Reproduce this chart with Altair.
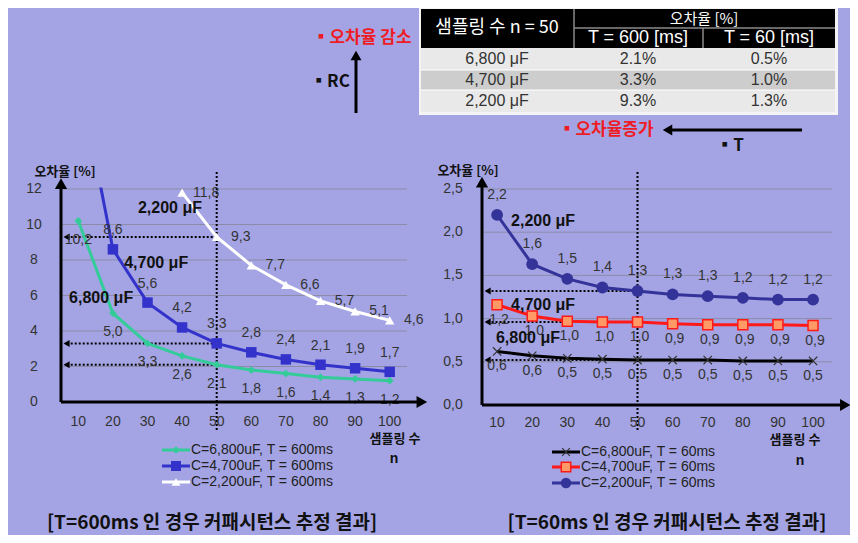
import altair as alt
import pandas as pd

BG = "#A4A4E4"
GRID = "#8C8CA8"
TXT = "#333333"
KR = "Noto Sans CJK KR"
LAT = "Liberation Sans"

# ---------------- data ----------------
N = [10, 20, 30, 40, 50, 60, 70, 80, 90, 100]
N_2200_600 = [40, 50, 60, 70, 80, 90, 100]
ERR600_6800 = [10.2, 5.0, 3.3, 2.6, 2.1, 1.8, 1.6, 1.4, 1.3, 1.2]
ERR600_4700 = [18.6, 8.6, 5.6, 4.2, 3.3, 2.8, 2.4, 2.1, 1.9, 1.7]
ERR600_2200 = [11.8, 9.3, 7.7, 6.6, 5.7, 5.1, 4.6]
ERR60_6800 = [0.62, 0.57, 0.54, 0.53, 0.52, 0.52, 0.52, 0.51, 0.51, 0.51]
ERR60_4700 = [1.16, 1.03, 0.97, 0.96, 0.96, 0.94, 0.93, 0.93, 0.93, 0.92]
ERR60_2200 = [2.20, 1.63, 1.46, 1.36, 1.32, 1.28, 1.26, 1.24, 1.22, 1.22]
LEFT_Y_TICKS = [0, 2, 4, 6, 8, 10, 12]
RIGHT_Y_TICKS = [0.0, 0.5, 1.0, 1.5, 2.0, 2.5]
X_TICKS = N
GUIDES_600 = [9.3, 3.3, 2.1]
GUIDES_60 = [1.32, 0.96, 0.52]
CAPS = ["6,800 μF", "4,700 μF", "2,200 μF"]
TABLE_600 = ["2.1%", "3.3%", "9.3%"]
TABLE_60 = ["0.5%", "1.0%", "1.3%"]
LEGEND_600 = ["C=6,800uF, T = 600ms", "C=4,700uF, T = 600ms", "C=2,200uF, T = 600ms"]
LEGEND_60 = ["C=6,800uF, T = 60ms", "C=4,700uF, T = 60ms", "C=2,200uF, T = 60ms"]

# ---------------- scales ----------------
LX = alt.Scale(domain=[5, 105], range=[53, 399], nice=False, zero=False)
LY = alt.Scale(domain=[0, 12], range=[394, 181], nice=False, zero=False)
RX = alt.Scale(domain=[5.7, 105.4], range=[474, 824], nice=False, zero=False)
RY = alt.Scale(domain=[0, 2.5], range=[397, 181], nice=False, zero=False)
CX = alt.Scale(domain=[0, 842], range=[0, 842], nice=False, zero=False)
CY = alt.Scale(domain=[0, 527], range=[0, 527], nice=False, zero=False)

CROSS = "M-1,-1L1,1M1,-1L-1,1"


def enc(sx, sy, x2=False, y2=False):
    e = dict(x=alt.X("x:Q", scale=sx, axis=None), y=alt.Y("y:Q", scale=sy, axis=None))
    if x2:
        e["x2"] = alt.X2("x2:Q")
    if y2:
        e["y2"] = alt.Y2("y2:Q")
    return e


def rules(sx, sy, rows, color="black", width=1, dash=None):
    df = pd.DataFrame(rows, columns=["x", "x2", "y", "y2"])
    kw = dict(color=color, strokeWidth=width)
    if dash:
        kw["strokeDash"] = dash
    return alt.Chart(df).mark_rule(**kw).encode(**enc(sx, sy, True, True))


def points(sx, sy, xs, ys, shape, size, fill=None, stroke=None, sw=1):
    df = pd.DataFrame({"x": xs, "y": ys})
    kw = dict(shape=shape, size=size, opacity=1, strokeWidth=sw)
    if fill is not None:
        kw.update(filled=True, fill=fill, color=fill)
    else:
        kw.update(filled=False)
    if stroke is not None:
        kw["stroke"] = stroke
    return alt.Chart(df).mark_point(**kw).encode(**enc(sx, sy))


def texts(sx, sy, xs, ys, ts, color=TXT, font=LAT, size=14, weight="normal",
          align="center", dx=0, dy=0):
    df = pd.DataFrame({"x": xs, "y": ys, "t": ts})
    return alt.Chart(df).mark_text(color=color, font=font, fontSize=size, fontWeight=weight,
                                   align=align, baseline="middle", dx=dx, dy=dy).encode(
        **enc(sx, sy), text="t:N")


def series(sx, sy, xs, ys, color, shape, size, fill, stroke, sw, dx, dy, maxv):
    df = pd.DataFrame({"x": xs, "y": ys})
    line = alt.Chart(df).mark_line(color=color, strokeWidth=3).encode(**enc(sx, sy))
    pts = points(sx, sy, xs, ys, shape, size, fill, stroke, sw)
    lab = alt.Chart(df).transform_filter(f"datum.y <= {maxv}").transform_calculate(
        t="replace(format(datum.y, '.1f'), '.', ',')").mark_text(
        color=TXT, font=LAT, fontSize=14, dx=dx, dy=dy, baseline="middle").encode(
        **enc(sx, sy), text="t:N")
    return [line, pts], lab


# ---------------- left panel (T = 600 ms) ----------------
L = []
L.append(rules(LX, LY, [(5, 105, v, v) for v in LEFT_Y_TICKS[1:]], GRID, 1))
L.append(rules(LX, LY, [(50, 50, -1.58, 13.07)], "black", 2, [2, 2]))
L.append(rules(LX, LY, [(50, 7, g, g) for g in GUIDES_600], "black", 2, [2, 2]))
L.append(points(LX, LY, [6.6] * 3, GUIDES_600, "triangle-left", 50, "black"))
s1, l1 = series(LX, LY, N, ERR600_6800, "#33CC99", "diamond", 60, "#33CC99", None, 1, 0, 19, 12)
s2, l2 = series(LX, LY, N, ERR600_4700, "#3333CC", "square", 110, "#3333CC", None, 1, 0, -19, 12)
s3, l3 = series(LX, LY, N_2200_600, ERR600_2200, "#FFFFFF", "triangle-up", 90, "#FFFFFF", None, 1, 24, 0, 12)
L += s1 + s2 + s3 + [l1, l2, l3]
# mask everything above the top of the value axis
L.append(alt.Chart(pd.DataFrame({"x": [3.5], "x2": [25], "y": [12.08], "y2": [40]})).mark_rect(
    color=BG).encode(**enc(LX, LY, True, True)))
L.append(texts(LX, LY, [36.5, 32.5, 16.6], [10.93, 7.83, 5.86],
               ["2,200 μF", "4,700 μF", "6,800 μF"], color="#111111", font=LAT,
               size=16, weight="bold"))
L.append(rules(LX, LY, [(5, 5, 0, 12.2), (5, 108, 0, 0)], "black", 3))
L.append(points(LX, LY, [5], [12.3], "triangle-up", 150, "black"))
L.append(points(LX, LY, [109.3], [0], "triangle-right", 150, "black"))
L.append(texts(LX, LY, [5] * len(LEFT_Y_TICKS), LEFT_Y_TICKS, [str(v) for v in LEFT_Y_TICKS], dx=-27))
L.append(texts(LX, LY, X_TICKS, [0] * len(X_TICKS), [str(v) for v in X_TICKS], dy=20))
left = alt.layer(*L)

# ---------------- right panel (T = 60 ms) ----------------
R = []
R.append(rules(RX, RY, [(5.7, 105.4, v, v) for v in RIGHT_Y_TICKS[1:]], GRID, 1))
R.append(rules(RX, RY, [(50, 50, -0.29, 2.70)], "black", 2, [2, 2]))
R.append(rules(RX, RY, [(50, 7.6, g, g) for g in GUIDES_60], "black", 2, [2, 2]))
R.append(points(RX, RY, [7.3] * 3, GUIDES_60, "triangle-left", 50, "black"))
r1, m1 = series(RX, RY, N, ERR60_6800, "#000000", CROSS, 70, None, "#333333", 1.2, 0, 15, 3)
r2, m2 = series(RX, RY, N, ERR60_4700, "#FF1A1A", "square", 100, "#FF9966", "#FF1A1A", 1.5, 2, 15, 3)
r3, m3 = series(RX, RY, N, ERR60_2200, "#333399", "circle", 140, "#333399", None, 1, 0, -20, 3)
R += r1 + r2 + r3 + [m1, m2, m3]
R.append(texts(RX, RY, [23.1, 23.1, 18.8], [2.13, 1.157, 0.775],
               ["2,200 μF", "4,700 μF", "6,800 μF"], color="#111111", font=LAT,
               size=16, weight="bold"))
R.append(rules(RX, RY, [(5.7, 5.7, 0, 2.57), (5.7, 108.5, 0, 0)], "black", 3))
R.append(points(RX, RY, [5.7], [2.58], "triangle-up", 150, "black"))
R.append(points(RX, RY, [109.2], [0], "triangle-right", 150, "black"))
R.append(texts(RX, RY, [5.7] * len(RIGHT_Y_TICKS), RIGHT_Y_TICKS,
               [f"{v:.1f}".replace(".", ",") for v in RIGHT_Y_TICKS], dx=-29))
R.append(texts(RX, RY, X_TICKS, [0] * len(X_TICKS), [str(v) for v in X_TICKS], dy=18))
right = alt.layer(*R)

# ---------------- canvas: table, notes, legends, titles ----------------
C = []
rect_rows = [
    (411, 830, 0, 107, "#F4F4F4"),
    (413, 827, 1, 40, "#000000"),
    (413, 827, 40, 62, "#E9E9E9"),
    (413, 827, 62, 82, "#CDCDCD"),
    (413, 827, 82, 104, "#E9E9E9"),
]
C.append(alt.Chart(pd.DataFrame(rect_rows, columns=["x", "x2", "y", "y2", "c"])).mark_rect().encode(
    **enc(CX, CY, True, True), color=alt.Color("c:N", scale=None)))
C.append(rules(CX, CY, [(566, 566, 1, 40), (566, 827, 20, 20), (695, 695, 20, 40)], "#8A8A8A", 1.5))
C.append(rules(CX, CY, [(413, 827, 62, 62), (413, 827, 82, 82)], "#FFFFFF", 1))
C.append(texts(CX, CY, [489], [20], ["샘플링 수 n = 50"], color="white", font=KR, size=18))
C.append(texts(CX, CY, [696], [11], ["오차율 [%]"], color="white", font=KR, size=15))
C.append(texts(CX, CY, [630, 761], [30, 30], ["T = 600 [ms]", "T = 60 [ms]"], color="white", font=LAT, size=18))
C.append(texts(CX, CY, [489] * 3, [51, 72, 93], CAPS, font=LAT, size=16))
C.append(texts(CX, CY, [630] * 3, [51, 72, 93], TABLE_600, font=LAT, size=16))
C.append(texts(CX, CY, [761] * 3, [51, 72, 93], TABLE_60, font=LAT, size=16))
# trend notes
C.append(texts(CX, CY, [354, 598], [30, 122], ["▪오차율 감소", "▪오차율증가"], color="#EE1C25",
               font=KR, size=17, weight="bold"))
C.append(texts(CX, CY, [322, 722], [74, 138], ["▪RC", "▪T"], color="#111111", font=KR,
               size=17, weight="bold"))
C.append(rules(CX, CY, [(348, 348, 50, 105), (660, 794, 122, 122)], "black", 3))
C.append(points(CX, CY, [348], [47.5], "triangle-up", 120, "black"))
C.append(points(CX, CY, [659.5], [122], "triangle-left", 120, "black"))
# axis titles
C.append(texts(CX, CY, [57, 460], [164, 163], ["오차율 [%]", "오차율 [%]"], color="#111111",
               font=KR, size=13, weight="bold"))
C.append(texts(CX, CY, [387, 787], [431, 432], ["샘플링 수", "샘플링 수"], color="#111111",
               font=KR, size=13, weight="bold"))
C.append(texts(CX, CY, [386, 792], [451, 453], ["n", "n"], color="#111111", font=LAT, size=14,
               weight="bold"))
# legends
ly = [442, 458, 474]
ry = [444, 459, 475]
for col, y in zip(["#33CC99", "#3333CC", "#FFFFFF"], ly):
    C.append(rules(CX, CY, [(154, 182, y, y)], col, 3))
C.append(points(CX, CY, [168], [ly[0]], "diamond", 60, "#33CC99"))
C.append(points(CX, CY, [168], [ly[1]], "square", 100, "#3333CC"))
C.append(points(CX, CY, [168], [ly[2]], "triangle-up", 80, "#FFFFFF"))
C.append(texts(CX, CY, [183] * 3, ly, LEGEND_600, color="#222222", font=LAT, size=14, align="left"))
for col, y in zip(["#000000", "#FF1A1A", "#333399"], ry):
    C.append(rules(CX, CY, [(544, 572, y, y)], col, 3))
C.append(points(CX, CY, [558], [ry[0]], CROSS, 60, None, "#333333", 1.2))
C.append(points(CX, CY, [558], [ry[1]], "square", 90, "#FF9966", "#FF1A1A", 1.5))
C.append(points(CX, CY, [558], [ry[2]], "circle", 110, "#333399"))
C.append(texts(CX, CY, [573] * 3, ry, LEGEND_60, color="#222222", font=LAT, size=14, align="left"))
# captions
C.append(texts(CX, CY, [204, 659], [515, 515],
               ["[T=600ms 인 경우 커패시턴스 추정 결과]", "[T=60ms 인 경우 커패시턴스 추정 결과]"],
               color="#111111", font=KR, size=19, weight="bold"))
canvas = alt.layer(*C)

chart = alt.layer(left, right, canvas).resolve_scale(
    x="independent", y="independent"
).properties(
    width=842, height=527, padding=0, background=BG,
    autosize=alt.AutoSizeParams(type="none"),
).configure_view(stroke=None, fill=BG)

chart.save("out.html", embed_options={"renderer": "svg", "actions": False})
